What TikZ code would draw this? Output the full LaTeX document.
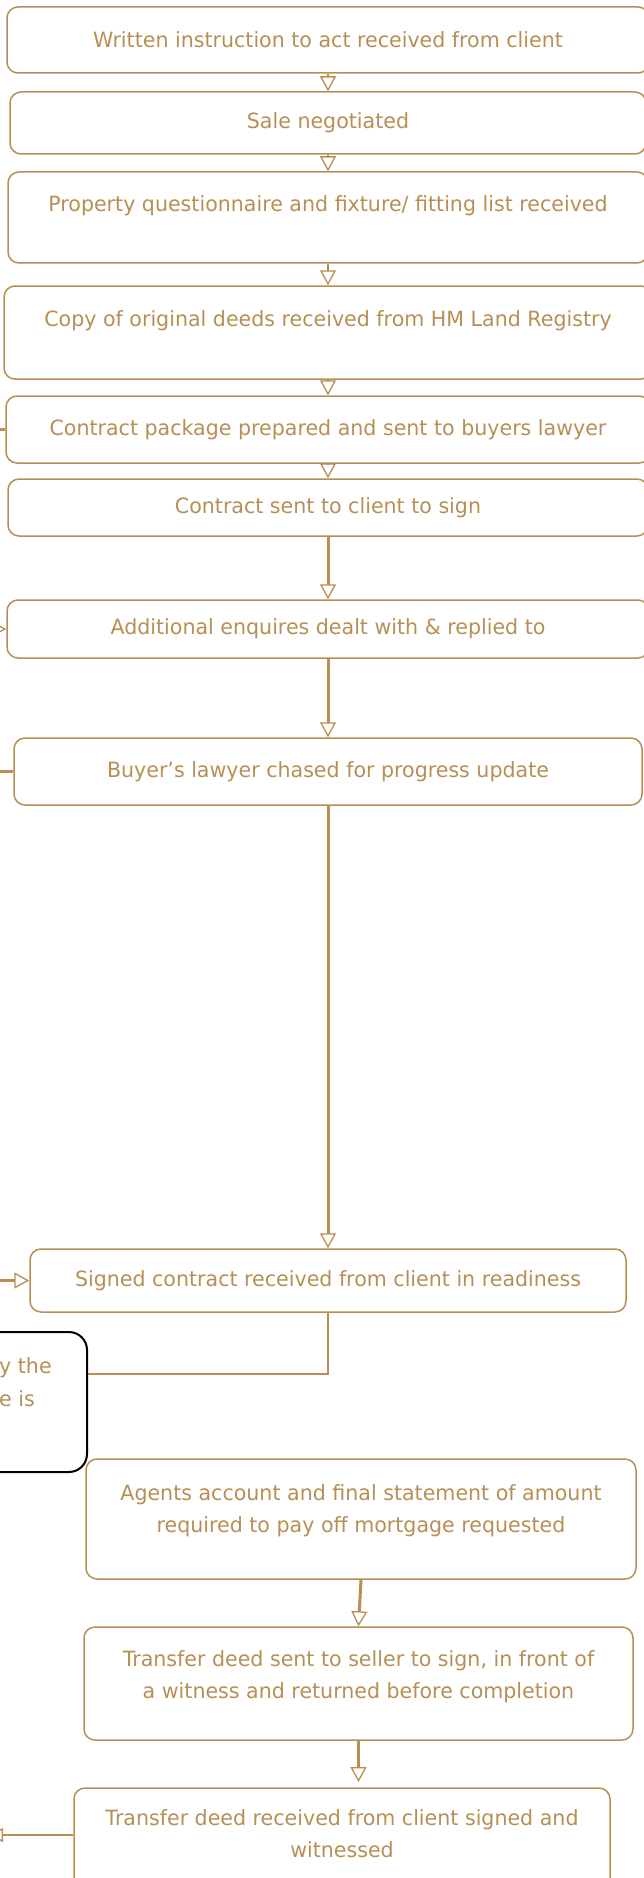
\documentclass[tikz,border=0pt]{standalone}
\usepackage{fontspec}
\setmainfont{DejaVu Sans}[FakeStretch=0.98]
\usetikzlibrary{arrows.meta}
\definecolor{gold}{RGB}{183,143,85}

\tikzset{
  stage/.style={draw=gold, line width=1.5pt, rounded corners=11pt, text=gold,
    align=center, inner sep=0pt, font=\fontsize{21}{32}\selectfont},
  flow/.style={draw=gold, line width=3pt,
    -{Triangle[open, length=15pt, width=16pt, line width=1.3pt]}},
  link/.style={draw=gold, line width=1.5pt},
  notebox/.style={draw=black, line width=2pt, rounded corners=18pt},
}

\begin{document}
\begin{tikzpicture}[x=1pt, y=-1pt]
    \useasboundingbox (0,0) rectangle (644,1878);
    % main column of stages
    \node[stage, minimum width=642pt, minimum height=66pt] (b1) at (328,40) {Written instruction to act received from client};
    \node[stage, minimum width=636pt, minimum height=62pt] (b2) at (328,123) {Sale negotiated};
    \node[stage, minimum width=640pt, minimum height=91pt] (b3) at (328,217.5) {Property questionnaire and fixture/ fitting list received\\[-4pt]~};
    \node[stage, minimum width=648pt, minimum height=93pt] (b4) at (328,332.5) {Copy of original deeds received from HM Land Registry\\[-4pt]~};
    \node[stage, minimum width=644pt, minimum height=67pt] (b5) at (328,429.5) {Contract package prepared and sent to buyers lawyer};
    \node[stage, minimum width=640pt, minimum height=57pt] (b6) at (328,507.5) {Contract sent to client to sign};
    \node[stage, minimum width=642pt, minimum height=58pt] (b7) at (328,629) {Additional enquires dealt with \& replied to};
    \node[stage, minimum width=628pt, minimum height=67pt] (b8) at (328,771.5) {Buyer’s lawyer chased for progress update};
    \node[stage, minimum width=596pt, minimum height=63pt] (b9) at (328,1280.5) {Signed contract received from client in readiness};
    % note box cut at the left edge
    \node[notebox, minimum width=287pt, minimum height=140pt] (note) at (-56.5,1402) {};
    \node[text=gold, align=left, inner sep=0pt, anchor=west, font=\fontsize{21}{33}\selectfont] (notetxt) at (-1,1382) {y the\\e is};
    \node[stage, minimum width=550pt, minimum height=120pt] (b10) at (361,1519) {Agents account and final statement of amount\\required to pay off mortgage requested\\[-12pt]~};
    \node[stage, minimum width=549pt, minimum height=113pt] (b11) at (358.5,1683.5) {Transfer deed sent to seller to sign, in front of\\a witness and returned before completion\\[-14pt]~};
    \node[stage, minimum width=536pt, minimum height=110pt] (b12) at (342,1843) {Transfer deed received from client signed and\\witnessed\\[-12pt]~};

    % loose ends off the left edge
    \coordinate (in5) at (-20,429.5);
    \coordinate (in7) at (-30,629);
    \coordinate (in8) at (-20,771.5);
    \coordinate (in9) at (-30,1280.5);
    \coordinate (out12) at (-10,1835);
    \coordinate (c12) at (358.5,1782);

    % connectors
    \draw[flow, line width=1.5pt] (b1) -- (b2);
    \draw[flow, line width=1.5pt] (b2) -- (b3);
    \draw[flow, line width=1.5pt] (b3) -- (b4);
    \draw[flow, line width=1.5pt] (b4) -- (b5);
    \draw[flow, line width=1.5pt] (b5) -- (b6);
    \draw[flow] (b6) -- (b7);
    \draw[flow] (b7) -- (b8);
    \draw[flow] (b8) -- (b9);
    \draw[link] (b9.south) |- ([yshift=28pt]note.east);
    \draw[flow] (b10.south) -- (b11.north);
    \draw[flow] (b11.south) -- (c12);
    \draw[link, line width=3pt] (in5) -- (b5.west);
    \draw[flow] (in7) -- (b7.west);
    \draw[link, line width=3pt] (in8) -- (b8.west);
    \draw[flow] (in9) -- (b9.west);
    \draw[link, -{Triangle[open, length=13pt, width=14pt, line width=1.3pt]}] ([yshift=8pt]b12.west) -- (out12);
\end{tikzpicture}
\end{document}
